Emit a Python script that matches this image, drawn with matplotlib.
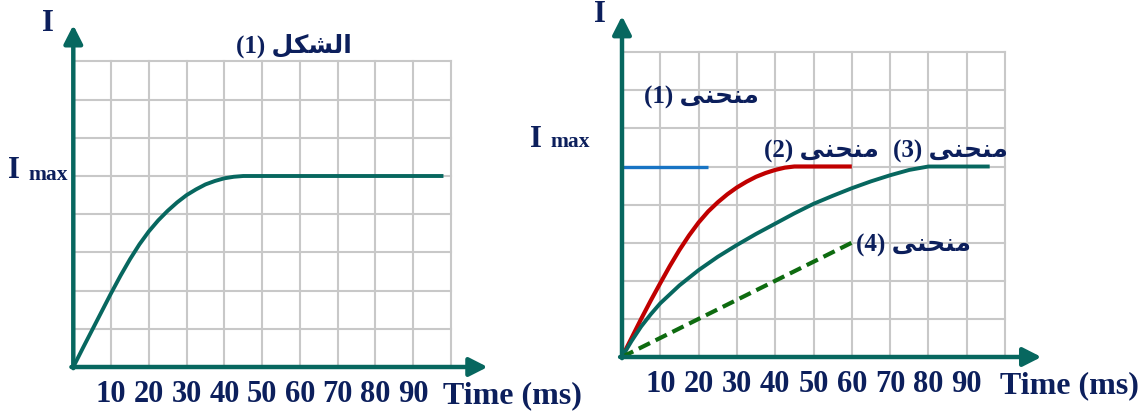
import matplotlib
matplotlib.use("Agg")
import matplotlib.pyplot as plt

# ---------------- data ----------------
tick_ms = [10, 20, 30, 40, 50, 60, 70, 80, 90]
tick_labels = ["10", "20", "30", "40", "50", "60", "70", "80", "90"]
grid_x = [10, 20, 30, 40, 50, 60, 70, 80, 90, 100]
grid_y = [1, 2, 3, 4, 5, 6, 7, 8]
i_max = 5

# figure (1): current growth in a coil
fig1_t = [0, 2.5, 5, 7.5, 10, 12.5, 15, 17.5, 20, 22.5, 25, 27.5, 30, 32.5,
          35, 37.5, 40, 42.5, 45, 98]
fig1_i = [0, 0.49, 0.97, 1.45, 1.93, 2.39, 2.82, 3.21, 3.55, 3.84, 4.09, 4.31,
          4.5, 4.65, 4.78, 4.87, 4.94, 4.98, 5.0, 5.0]

# curve (1): instantaneous rise
c1_t = [0, 22.5]
c1_i = [5, 5]

# curve (2)
c2_t = [0, 2.5, 5, 7.5, 10, 12.5, 15, 17.5, 20, 22.5, 25, 27.5, 30, 32.5,
        35, 37.5, 40, 42.5, 45, 60]
c2_i = [0, 0.5, 1.0, 1.48, 1.94, 2.39, 2.81, 3.19, 3.53, 3.82, 4.06, 4.27,
        4.45, 4.6, 4.73, 4.83, 4.91, 4.97, 5.0, 5.0]

# curve (3)
c3_t = [0, 2.5, 5, 7.5, 10, 15, 20, 25, 30, 35, 40, 45, 50, 55, 60, 65, 70,
        75, 80, 96]
c3_i = [0, 0.42, 0.8, 1.12, 1.41, 1.88, 2.28, 2.63, 2.94, 3.23, 3.5, 3.77,
        4.02, 4.23, 4.43, 4.61, 4.77, 4.91, 5.0, 5.0]

# curve (4): linear rise
c4_t = [0, 60]
c4_i = [0, 3]

# Arabic words in presentation forms, visual (left-to-right) order
WORD_CURVE = "\uFEF0\uFEE8\uFEA4\uFEE8\uFEE3"       # منحنى
WORD_FIGURE = "\uFEDE\uFEDC\uFEB8\uFEDF\uFE8D"      # الشكل

# ---------------- style ----------------
W, H = 1138, 412
TEAL = "#07675f"
RED = "#c00000"
BLUE = "#1874c4"
GREEN = "#0e6b10"
NAVY = "#0c1f5c"
GRID = "#c8c8c8"
FAM = ["Liberation Serif", "DejaVu Sans"]

fig = plt.figure(figsize=(W / 100, H / 100), dpi=100)
fig.patch.set_facecolor("white")


def px(x, y):
    return x / W, 1 - y / H


def make_axes(x0, y0, x1, y1, x_arrow):
    ax = fig.add_axes([x0 / W, 1 - y0 / H, (x1 - x0) / W, (y0 - y1) / H])
    ax.set_xlim(0, 100)
    ax.set_ylim(0, 8)
    for s in ax.spines.values():
        s.set_visible(False)
    ax.set_facecolor("none")
    # grid
    for gx in grid_x:
        ax.plot([gx, gx], [0, 8], color=GRID, lw=1.5, zorder=1, clip_on=False)
    for gy in grid_y:
        ax.plot([0, 100], [gy, gy], color=GRID, lw=1.5, zorder=1, clip_on=False)
    # axes with arrows
    arrow = dict(arrowstyle="-|>,head_length=0.55,head_width=0.28",
                 lw=3.2, color=TEAL, mutation_scale=20, shrinkA=0, shrinkB=0)
    ax.annotate("", xy=(0, 8.95), xytext=(0, -0.03), arrowprops=arrow,
                annotation_clip=False, zorder=5)
    ax.annotate("", xy=(x_arrow, 0), xytext=(-0.5, 0), arrowprops=arrow,
                annotation_clip=False, zorder=5)
    ax.set_xticks(tick_ms)
    ax.set_xticklabels(tick_labels, fontsize=22, fontweight="bold",
                       family=FAM, color=NAVY)
    ax.tick_params(axis="x", length=0, pad=9)
    ax.set_yticks([])
    return ax


def label(x, y, s, size, ha="left", va="baseline"):
    fig.text(*px(x, y), s, fontsize=size, fontweight="bold", family=FAM,
             color=NAVY, ha=ha, va=va)


def curve(ax, t, i, color, lw, **kw):
    ax.plot(t, i, color=color, lw=lw, zorder=3, solid_capstyle="butt",
            solid_joinstyle="round", **kw)


# ---------------- left panel ----------------
axL = make_axes(73.3, 367, 451, 61.4, 109.7)
curve(axL, fig1_t, fig1_i, TEAL, 2.8)

label(48, 31, "I", 22, ha="center")
label(8, 178, "I", 22)
label(28, 180, "max", 15.5)
label(294, 53, "(1) " + WORD_FIGURE, 18, ha="center")
label(443, 403, "Time (ms)", 23)

# ---------------- right panel ----------------
axR = make_axes(622, 357, 1005, 52.2, 109.5)
curve(axR, c1_t, c1_i, BLUE, 2.4)
curve(axR, c2_t, c2_i, RED, 3.0)
curve(axR, c3_t, c3_i, TEAL, 2.8)
axR.plot(c4_t, c4_i, color=GREEN, lw=3.0, zorder=3, linestyle=(0, (3, 1.5)))

label(600, 22, "I", 22, ha="center")
label(530, 147, "I", 22)
label(550, 147, "max", 15.5)
label(701, 104, "(1) " + WORD_CURVE, 18, ha="center")
label(821, 158, "(2) " + WORD_CURVE, 18, ha="center")
label(950, 158, "(3) " + WORD_CURVE, 18, ha="center")
label(913, 252, "(4) " + WORD_CURVE, 18, ha="center")
label(1000, 393, "Time (ms)", 23)

fig.savefig("out.png", dpi=100, facecolor="white")
